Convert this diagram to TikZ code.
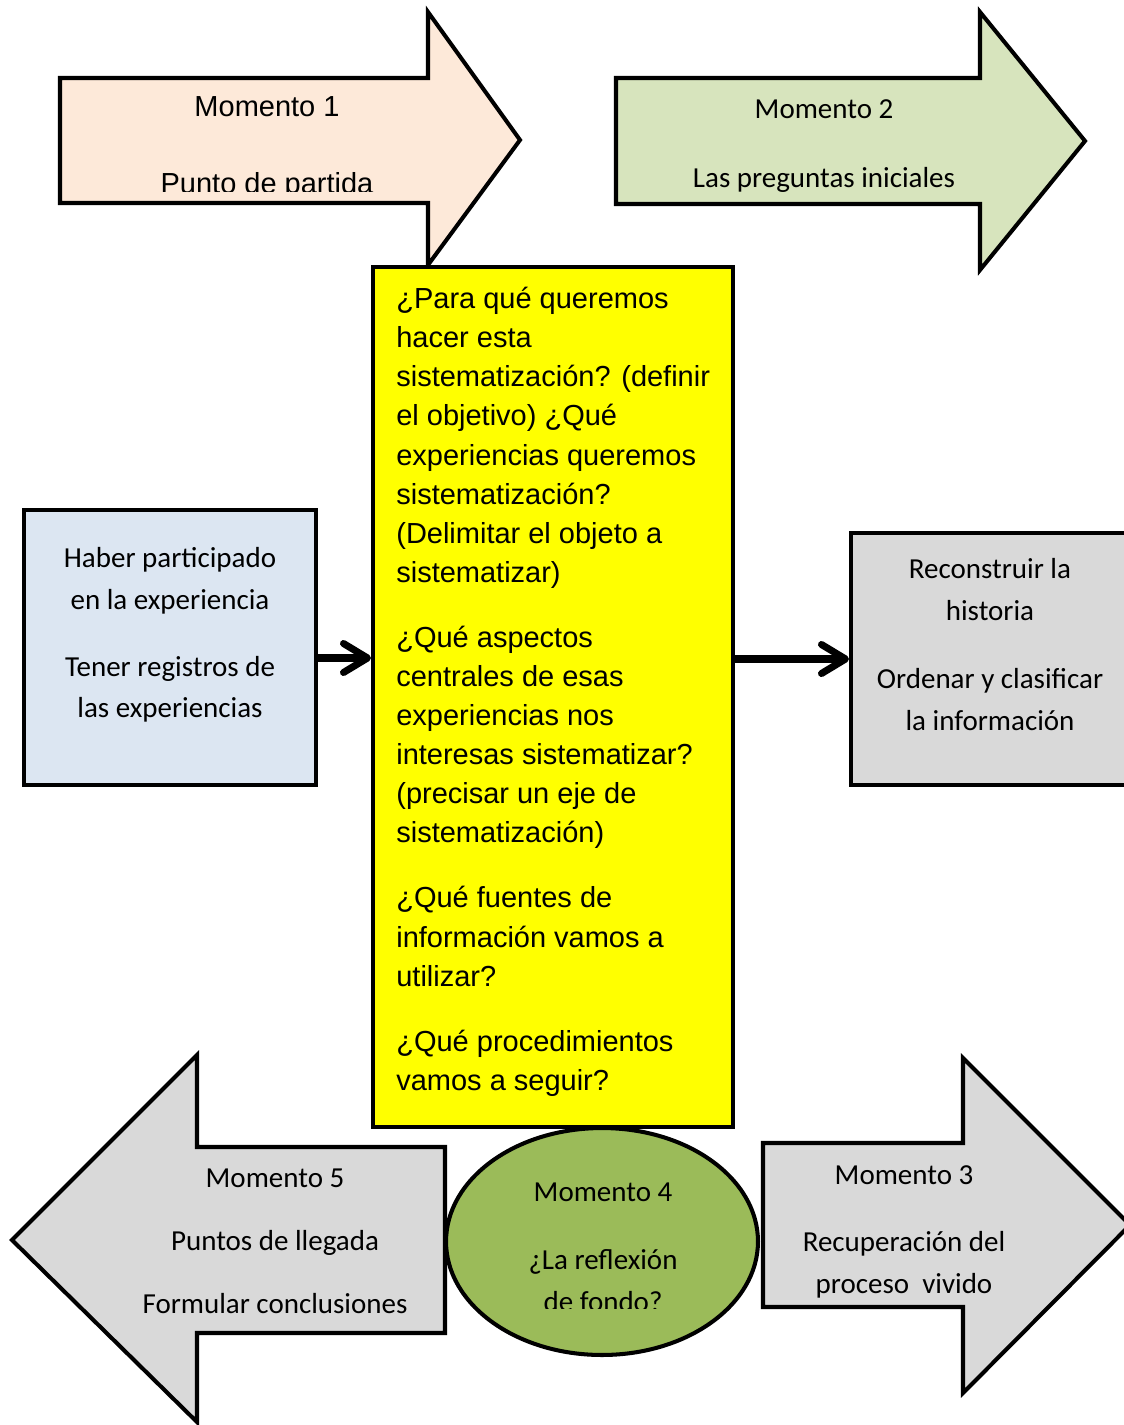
\documentclass[tikz,border=0pt]{standalone}
\usepackage{fontspec}
\setmainfont{Liberation Sans}
\newfontfamily\calibri{Carlito}
\usepackage{xcolor}
\usepackage{tikz}
\usetikzlibrary{positioning, shapes}
\usetikzlibrary{arrows.meta}
\definecolor{peach}{HTML}{FDE9D9}
\definecolor{sage}{HTML}{D7E4BD}
\definecolor{paleblue}{HTML}{DCE6F2}
\definecolor{lightgrey}{HTML}{D9D9D9}
\definecolor{olive}{HTML}{9BBB59}
\definecolor{goalyellow}{HTML}{FFFF00}

\begin{document}
\begin{tikzpicture}[x=0.02cm,y=-0.02cm]
        \tikzset{outline/.style = {draw, line width=2.3pt, line join=miter}}
        \tikzset{link/.style = {-{Straight Barb[length=4.8mm,width=5.8mm,round]}, line width=4pt, line cap=round}}
        \tikzset{arial/.style = {font=\fontsize{16.5}{22.25}\selectfont}}
        \tikzset{calib/.style = {font=\calibri\fontsize{16.5}{23.8}\selectfont, align=center}}

        \useasboundingbox (0,0) rectangle (1124,1425);

        % momento 1
        \draw[outline, fill=peach] (60,78) -- (428,78) -- (428,12) -- (520,140) -- (428,265) -- (428,203) -- (60,203) -- cycle;
        \begin{scope}
            \clip (60,78) rectangle (428,192);
            \node[arial, align=center] (m1) at (267,148) {Momento 1\\[0.76cm]Punto de partida};
        \end{scope}

        % momento 2
        \draw[outline, fill=sage] (616,78) -- (980,78) -- (980,12) -- (1085,141) -- (980,270) -- (980,204) -- (616,204) -- cycle;
        \node[calib] (m2) at (824,146) {Momento 2\\[0.54cm]Las preguntas iniciales};

        % preguntas iniciales
        \node[outline, fill=goalyellow, minimum width=7.2cm, minimum height=17.2cm] (goals) at (553,697) {};
        \node[arial, align=left, anchor=north west, inner sep=0] (goalstext) at (396,287) {%
            ¿Para qué queremos\\hacer esta\\sistematización? (definir\\el objetivo) ¿Qué\\experiencias queremos\\sistematización?\\(Delimitar el objeto a\\sistematizar)\\[0.52cm]
            ¿Qué aspectos\\centrales de esas\\experiencias nos\\interesas sistematizar?\\(precisar un eje de\\sistematización)\\[0.52cm]
            ¿Qué fuentes de\\información vamos a\\utilizar?\\[0.52cm]
            ¿Qué procedimientos\\vamos a seguir?};

        % punto de partida
        \node[outline, fill=paleblue, minimum width=5.84cm, minimum height=5.5cm] (exp) at (170,647.5) {};
        \node[calib] (exptext) at (170,635) {Haber participado\\en la experiencia\\[0.5cm]Tener registros de\\las experiencias};

        % recuperacion
        \node[outline, fill=lightgrey, minimum width=5.56cm, minimum height=5.04cm] (info) at (990,659) {};
        \node[calib] (infotext) at (990,644.5) {Reconstruir la\\historia\\[0.52cm]Ordenar y clasificar\\la información};

        % links
        \draw[link] ([yshift=-0.21cm]exp.east) -- ([yshift=-0.21cm]exp.east -| goals.west);
        \draw[link] (goals.east |- info.west) -- (info.west);

        % momento 5
        \draw[outline, fill=lightgrey] (445,1147) -- (197,1147) -- (197,1055) -- (12,1240) -- (197,1422) -- (197,1333) -- (445,1333) -- cycle;
        \node[calib] (m5) at (275,1241) {Momento 5\\[0.42cm]Puntos de llegada\\[0.42cm]Formular conclusiones};

        % momento 3
        \draw[outline, fill=lightgrey] (763,1143) -- (963,1143) -- (963,1058) -- (1130,1225) -- (963,1393) -- (963,1307) -- (763,1307) -- cycle;
        \node[calib] (m3) at (904,1232) {Momento 3\\[0.5cm]Recuperación del\\proceso~ vivido};

        % momento 4
        \node[outline, ellipse, fill=olive, minimum width=6.24cm, minimum height=4.54cm] (m4) at (602,1241.5) {};
        \begin{scope}
            \clip (440,1120) rectangle (770,1308);
            \node[calib] (m4text) at (603,1247) {Momento 4\\[0.52cm]¿La reflexión\\de fondo?};
        \end{scope}

\end{tikzpicture}
\end{document}
